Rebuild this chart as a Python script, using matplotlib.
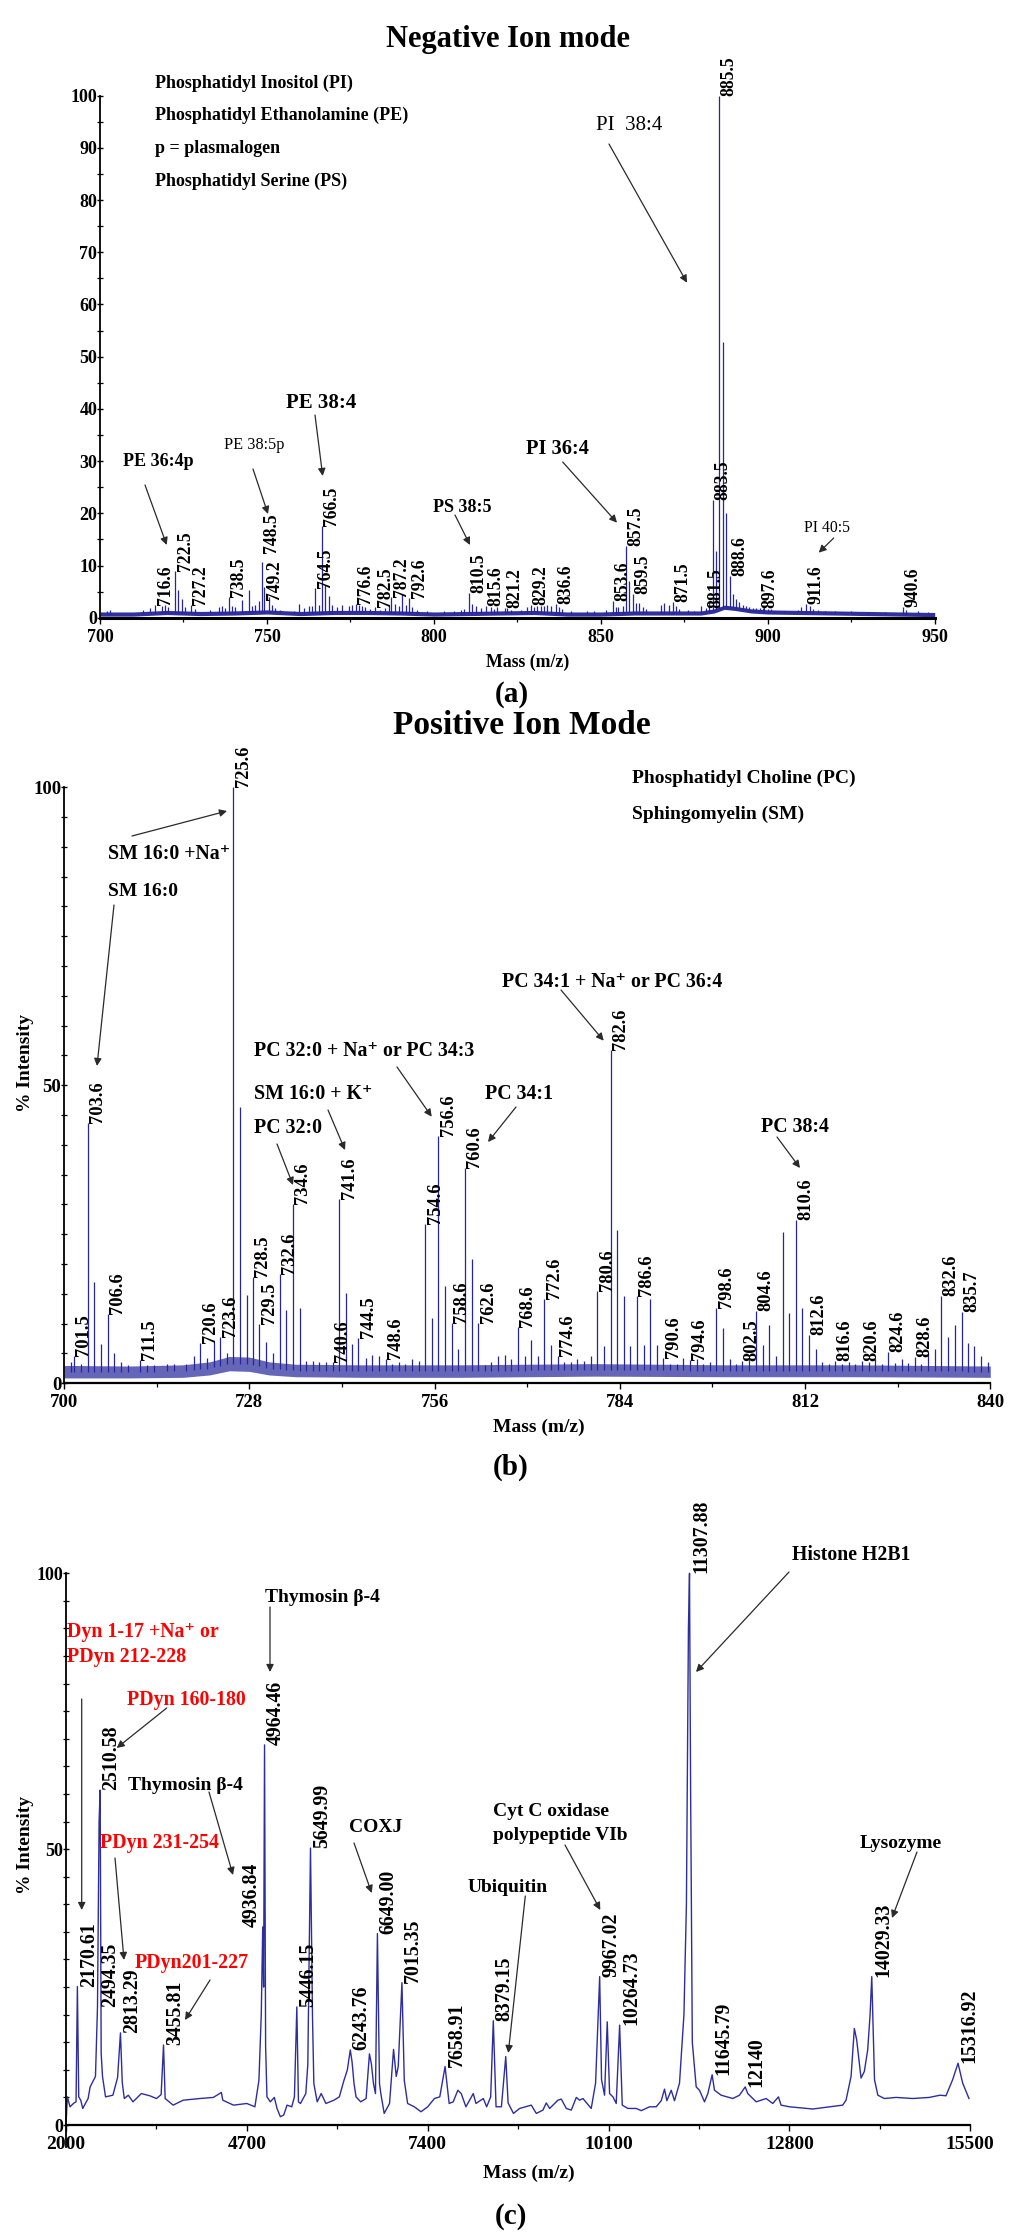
import numpy as np
import matplotlib
matplotlib.use("Agg")
import matplotlib.pyplot as plt
from matplotlib.ticker import FixedLocator

W, H = 1024, 2236
plt.rcParams['font.family'] = ['Liberation Serif', 'DejaVu Serif']
plt.rcParams['font.weight'] = 'bold'
BLUE = '#25259c'

# ---------------- (a) Negative ion mode ----------------
neg_mz = [716.6, 718.5, 719.5, 720.5, 722.5, 723.5, 724.5, 725.5, 727.2, 736.5, 737.5, 738.5,
          739.5, 740.5, 742.5, 744.5, 745.5, 746.5, 747.5, 748.5, 749.2, 750.5, 751.5, 752.5,
          759.5, 761.0, 762.5, 764.5, 765.5, 766.5, 767.5, 768.5, 769.5, 771.0, 772.5, 774.5,
          775.5, 776.6, 777.5, 778.5, 782.5, 785.5, 786.5, 787.2, 788.5, 790.5, 791.5, 792.6,
          793.5, 810.5, 811.5, 812.5, 814.0, 815.6, 817.0, 819.0, 821.2, 829.2, 831.0, 832.0,
          833.0, 834.0, 836.6, 837.5, 853.6, 855.0, 856.5, 857.5, 858.5, 859.5, 860.5, 861.5,
          868.0, 869.0, 871.5, 872.5, 880.0, 881.5, 882.5, 883.5, 884.5, 885.5, 886.5, 887.5,
          888.6, 889.5, 890.5, 891.5, 892.5, 893.5, 895.5, 897.6, 899.0, 910.0, 911.6, 912.6,
          940.6,
          702.0, 703.0, 713.0, 715.0, 728.5, 733.0, 735.5, 754.0, 758.0, 763.5, 779.5, 781.0,
          784.0, 789.5, 795.0, 798.0, 803.0, 806.0, 808.0, 809.0, 818.0, 822.0, 823.0, 826.0,
          828.0, 830.0, 835.0, 838.5, 841.0, 846.0, 848.0, 851.5, 854.5, 862.5, 863.5, 870.5,
          873.5, 876.0, 878.0, 894.5, 896.5, 898.5, 900.0, 901.0, 902.0, 905.0, 909.0, 913.5,
          915.0, 917.0, 920.0, 925.0, 930.0, 935.0, 941.5, 945.0, 948.0]
neg_int = [2.4, 2.2, 2.5, 2.0, 9.0, 5.3, 3.6, 2.0, 2.4, 2.2, 1.8, 4.0,
           2.2, 2.0, 3.3, 5.3, 2.2, 2.5, 3.2, 10.7, 5.9, 4.0, 2.5, 1.8,
           2.6, 1.8, 2.3, 5.6, 2.5, 17.6, 6.3, 4.2, 2.4, 2.0, 2.4, 2.2,
           2.4, 2.7, 2.5, 2.3, 2.1, 1.8, 2.5, 4.0, 2.7, 4.5, 2.5, 3.8,
           2.0, 4.8, 2.7, 2.3, 1.8, 2.3, 2.0, 2.0, 1.8, 2.4, 2.2, 2.3,
           2.3, 2.4, 2.6, 2.0, 3.2, 2.0, 2.2, 13.7, 7.1, 4.5, 2.8, 2.8,
           2.5, 2.8, 3.0, 2.2, 2.2, 1.8, 3.0, 22.5, 12.8, 100.0, 52.9, 20.0,
           7.9, 4.5, 3.5, 3.0, 2.5, 2.2, 1.8, 1.8, 2.0, 2.0, 2.6, 2.3,
           2.0,
           1.3, 1.4, 1.5, 1.8, 1.6, 1.4, 2.0, 1.5, 1.3, 2.2, 2.0, 1.6,
           1.5, 2.3, 1.5, 1.3, 1.3, 1.3, 1.5, 1.7, 1.7, 1.8, 1.5, 1.5,
           2.0, 2.0, 2.3, 1.6, 1.3, 1.3, 1.3, 1.5, 2.0, 2.0, 1.7, 2.5,
           1.7, 1.5, 1.3, 2.0, 1.8, 1.8, 1.6, 1.7, 1.3, 1.2, 1.5, 1.6,
           1.5, 1.3, 1.3, 1.2, 1.1, 1.1, 1.4, 1.2, 1.1]
neg_labels = ['716.6', '722.5', '727.2', '738.5', '748.5', '749.2', '764.5', '766.5', '776.6',
              '782.5', '787.2', '792.6', '810.5', '815.6', '821.2', '829.2', '836.6', '853.6',
              '857.5', '859.5', '871.5', '881.5', '883.5', '885.5', '888.6', '897.6', '911.6',
              '940.6']
neg_base_mz = [700, 710, 720, 730, 740, 750, 760, 770, 780, 790, 800, 810, 820, 830, 840, 850,
               860, 870, 880, 884, 887, 890, 895, 900, 910, 920, 930, 940, 950]
neg_base_mid = [0.7, 0.7, 1.0, 0.8, 0.9, 1.1, 0.8, 1.0, 1.0, 0.9, 0.7, 0.8, 0.9, 1.0, 0.7, 0.7,
                0.9, 0.9, 0.9, 1.3, 2.0, 1.8, 1.3, 1.1, 1.0, 0.9, 0.8, 0.7, 0.6]

# ---------------- (b) Positive ion mode ----------------
pos_mz = [701.0, 701.5, 702.6, 703.6, 704.6, 705.6, 706.6, 707.6, 708.6, 709.6, 711.5, 712.5,
          713.6, 715.6, 716.6, 718.5, 719.6, 720.6, 721.6, 722.6, 723.6, 724.6, 725.6, 726.6,
          727.6, 728.5, 729.5, 730.5, 731.6, 732.6, 733.6, 734.6, 735.6, 736.6, 737.6, 738.6,
          739.6, 740.6, 741.6, 742.6, 743.6, 744.5, 745.6, 746.6, 747.6, 748.6, 749.6, 750.6,
          751.6, 752.6, 753.6, 754.6, 755.6, 756.6, 757.6, 758.6, 759.6, 760.6, 761.6, 762.6,
          763.6, 764.6, 765.6, 766.6, 767.6, 768.6, 769.6, 770.6, 771.6, 772.6, 773.6, 774.6,
          775.6, 776.6, 777.6, 778.6, 779.6, 780.6, 781.6, 782.6, 783.6, 784.6, 785.6, 786.6,
          787.6, 788.6, 789.6, 790.6, 791.6, 792.6, 793.6, 794.6, 795.6, 796.6, 797.6, 798.6,
          799.6, 800.6, 801.6, 802.5, 803.6, 804.6, 805.6, 806.6, 807.6, 808.6, 809.6, 810.6,
          811.6, 812.6, 813.6, 814.6, 815.6, 816.6, 817.6, 818.6, 819.6, 820.6, 821.6, 822.6,
          823.6, 824.6, 825.6, 826.6, 827.6, 828.6, 829.6, 830.6, 831.6, 832.6, 833.6, 834.6,
          835.7, 836.6, 837.6, 838.6, 839.6]
pos_int = [3.5, 4.5, 3.2, 43.7, 17.0, 6.6, 11.6, 5.1, 3.5, 3.0, 3.9, 3.0,
           3.0, 3.2, 3.3, 3.3, 4.5, 6.7, 4.2, 6.9, 7.8, 5.0, 100.0, 46.4,
           14.8, 17.8, 10.0, 7.0, 5.0, 18.4, 12.3, 30.0, 12.6, 3.7, 3.8, 3.5,
           3.5, 3.6, 30.9, 15.2, 6.6, 7.6, 4.3, 4.8, 4.5, 4.0, 3.3, 3.5,
           3.2, 4.0, 3.8, 26.7, 10.9, 41.5, 16.3, 10.2, 5.7, 36.1, 20.8, 10.1,
           3.0, 3.5, 4.5, 4.7, 4.0, 9.4, 4.6, 7.2, 4.5, 14.2, 6.5, 4.6,
           3.5, 3.5, 4.0, 3.7, 4.5, 15.5, 6.3, 55.9, 25.7, 14.7, 6.3, 14.7,
           6.4, 14.2, 6.5, 4.3, 3.3, 3.3, 4.2, 3.9, 4.0, 3.3, 3.5, 12.7,
           9.2, 4.0, 3.3, 3.8, 4.0, 12.1, 6.4, 9.8, 4.5, 25.4, 11.8, 27.4,
           12.6, 8.1, 5.8, 3.5, 3.3, 3.7, 3.3, 3.5, 3.3, 3.8, 3.5, 4.1,
           3.3, 5.2, 3.4, 4.1, 3.4, 4.4, 3.2, 5.0, 5.7, 14.7, 7.7, 9.8,
           11.9, 6.7, 6.2, 4.6, 3.5]
pos_labels = ['701.5', '703.6', '706.6', '711.5', '720.6', '723.6', '725.6', '728.5', '729.5',
              '732.6', '734.6', '740.6', '741.6', '744.5', '748.6', '754.6', '756.6', '758.6',
              '760.6', '762.6', '768.6', '772.6', '774.6', '780.6', '782.6', '786.6', '790.6',
              '794.6', '798.6', '802.5', '804.6', '810.6', '812.6', '816.6', '820.6', '824.6',
              '828.6', '832.6', '835.7']
pos_base_mz = [700, 710, 718, 722, 725, 728, 731, 735, 745, 760, 780, 800, 820, 840]
pos_base_lo = [0.9, 0.9, 1.0, 1.4, 2.1, 2.0, 1.4, 1.1, 1.0, 1.0, 1.2, 1.1, 1.1, 1.0]
pos_base_hi = [3.0, 2.9, 3.1, 3.6, 4.5, 4.4, 3.6, 3.2, 3.1, 3.1, 3.3, 3.1, 3.1, 2.9]

# ---------------- (c) Protein / peptide spectrum ----------------
prot_mz = [2000, 2020, 2060, 2120, 2150, 2170, 2190, 2220, 2250, 2330, 2360, 2440, 2470, 2494,
           2510, 2525, 2545, 2590, 2700, 2770, 2813, 2840, 2870, 2930, 3000, 3125, 3250, 3350,
           3420, 3456, 3480, 3600, 3750, 4000, 4200, 4320, 4340, 4500, 4700, 4820, 4880, 4915,
           4937, 4950, 4964, 4980, 5000, 5050, 5110, 5150, 5200, 5250, 5300, 5370, 5410, 5446,
           5470, 5500, 5580, 5610, 5650, 5680, 5700, 5750, 5810, 5880, 6000, 6080, 6150, 6200,
           6244, 6270, 6300, 6330, 6400, 6480, 6530, 6560, 6590, 6620, 6649, 6680, 6700, 6750,
           6830, 6890, 6930, 6960, 7015, 7050, 7100, 7200, 7300, 7400, 7500, 7580, 7659, 7720,
           7780, 7850, 7900, 7970, 8080, 8120, 8230, 8280, 8340, 8379, 8420, 8500, 8565, 8600,
           8680, 8772, 8946, 9021, 9120, 9170, 9220, 9344, 9394, 9469, 9543, 9618, 9667, 9717,
           9841, 9906, 9967, 9995, 10040, 10080, 10115, 10165, 10214, 10265, 10304, 10388, 10513,
           10587, 10712, 10811, 10886, 10935, 10970, 11035, 11084, 11159, 11225, 11262, 11292,
           11308, 11325, 11350, 11408, 11457, 11532, 11582, 11646, 11681, 11781, 11955, 12054,
           12140, 12178, 12303, 12452, 12551, 12636, 12675, 12800, 13148, 13595, 13645, 13720,
           13769, 13804, 13869, 13918, 13968, 14003, 14029, 14070, 14120, 14217, 14391, 14640,
           14888, 15047, 15137, 15236, 15317, 15386, 15480]
prot_int = [0.0, 5.1, 3.3, 4.0, 4.2, 25.1, 5.1, 4.5, 3.0, 4.8, 6.9, 8.8, 21.4, 55.0,
            60.7, 13.0, 8.8, 5.1, 5.4, 8.6, 16.7, 7.7, 4.8, 5.4, 4.2, 5.7, 5.3, 4.8,
            5.5, 14.5, 4.8, 3.6, 4.5, 4.8, 5.0, 5.9, 4.5, 3.6, 3.9, 3.3, 8.1, 20.0,
            35.9, 25.0, 68.9, 14.2, 5.1, 4.2, 5.0, 3.0, 1.5, 1.8, 3.6, 3.3, 5.1, 21.4,
            4.2, 3.9, 5.7, 11.0, 50.2, 19.5, 7.5, 4.2, 5.7, 3.9, 4.5, 5.1, 8.1, 10.0,
            13.6, 11.5, 7.5, 5.1, 4.2, 4.8, 12.9, 11.0, 7.5, 5.7, 34.7, 7.5, 5.7, 2.1,
            3.9, 13.7, 8.8, 10.6, 25.8, 8.1, 3.9, 3.3, 2.4, 3.3, 4.8, 5.1, 10.6, 3.9,
            4.2, 6.3, 5.7, 3.3, 5.7, 3.9, 4.8, 3.3, 5.1, 18.9, 3.3, 3.3, 12.4, 4.0,
            2.1, 3.0, 3.6, 2.1, 2.7, 4.0, 3.0, 4.5, 4.7, 3.0, 2.7, 5.0, 4.5, 4.8,
            3.0, 7.6, 26.9, 8.2, 5.4, 18.7, 5.7, 5.1, 3.9, 18.1, 3.6, 3.0, 3.0,
            2.6, 3.3, 3.3, 4.4, 6.5, 4.4, 6.3, 4.4, 7.6, 20.0, 40.0, 90.0,
            100.0, 60.0, 15.0, 6.9, 6.3, 4.2, 5.7, 9.1, 6.3, 5.4, 4.8, 5.4,
            6.9, 5.7, 4.2, 4.8, 3.9, 5.1, 3.6, 3.3, 2.9, 3.6, 4.5, 8.8,
            17.5, 15.4, 8.5, 9.7, 13.6, 19.8, 26.9, 8.2, 5.4, 4.8, 5.0, 4.8,
            5.0, 5.4, 5.3, 8.2, 11.2, 7.6, 4.8]
prot_labels = ['2170.61', '2494.35', '2510.58', '2813.29', '3455.81', '4936.84', '4964.46',
               '5446.15', '5649.99', '6243.76', '6649.00', '7015.35', '7658.91', '8379.15',
               '9967.02', '10264.73', '11307.88', '11645.79', '12140', '14029.33', '15316.92']

# ---------------- figure ----------------
fig = plt.figure(figsize=(W / 100, H / 100), dpi=100)
fig.patch.set_facecolor('white')


def add_axes_px(left, right, top, bottom):
    return fig.add_axes([left / W, 1 - bottom / H, (right - left) / W, (bottom - top) / H])


def style(ax, xlim, xmaj, xmin, ymaj, ymin, xfs, yfs, blw):
    ax.set_xlim(*xlim)
    ax.set_ylim(0, 100)
    ax.set_facecolor('none')
    for s in ('top', 'right'):
        ax.spines[s].set_visible(False)
    ax.spines['left'].set_linewidth(1.3)
    ax.spines['bottom'].set_linewidth(blw)
    ax.xaxis.set_major_locator(FixedLocator(xmaj))
    ax.xaxis.set_minor_locator(FixedLocator(xmin))
    ax.yaxis.set_major_locator(FixedLocator(ymaj))
    ax.yaxis.set_minor_locator(FixedLocator(ymin))
    ax.tick_params(axis='x', which='major', direction='out', length=4, width=1.0,
                   labelsize=xfs, pad=4)
    ax.tick_params(axis='x', which='minor', direction='out', length=3, width=0.9)
    ax.tick_params(axis='y', which='major', direction='inout', length=4, width=1.0,
                   labelsize=yfs, pad=0)
    ax.tick_params(axis='y', which='minor', direction='inout', length=4, width=0.9)


def txt(x, y, s, fs, ha='left', va='center', color='black', weight='bold', rot=0):
    fig.text(x / W, 1 - y / H, s, fontsize=fs, ha=ha, va=va, color=color,
             fontweight=weight, rotation=rot)


def arrow(ax, x0, y0, x1, y1):
    ax.annotate('', xy=(x1, H - y1), xycoords='figure pixels',
                xytext=(x0, H - y0), textcoords='figure pixels',
                annotation_clip=False,
                arrowprops=dict(arrowstyle='-|>', color='#2a2a2a', lw=0.9,
                                mutation_scale=11, shrinkA=0, shrinkB=0))


def sticks(ax, mz, inten, bmz, blo, bhi, band_alpha):
    mz = np.asarray(mz, float)
    inten = np.asarray(inten, float)
    blo = np.asarray(blo, float)
    bhi = np.asarray(bhi, float)
    mid = (blo + bhi) / 2
    ax.fill_between(bmz, blo, bhi, color=BLUE, lw=0, alpha=band_alpha)
    base = np.interp(mz, bmz, mid)
    ax.vlines(mz, base, inten, colors=BLUE, lw=0.9, clip_on=False)


def peak_labels(ax, labels, mz, inten, fs, anchor_over=None, left_side=(), window=None):
    mz = np.asarray(mz, float)
    inten = np.asarray(inten, float)
    anchor_over = anchor_over or {}
    for lab in labels:
        m = float(lab)
        if window is None:
            h = inten[np.argmin(np.abs(mz - m))]
        else:
            sel = np.abs(mz - m) <= window
            h = inten[sel].max()
        h = anchor_over.get(lab, h)
        if lab in left_side:
            ax.annotate(lab, xy=(m, h), xytext=(-1, 0), textcoords='offset points',
                        rotation=90, ha='right', va='bottom', fontsize=fs,
                        fontweight='bold', annotation_clip=False)
        else:
            ax.annotate(lab, xy=(m, h), xytext=(1, 0), textcoords='offset points',
                        rotation=90, ha='left', va='bottom', fontsize=fs,
                        fontweight='bold', annotation_clip=False)


# ---------- panel (a) ----------
axA = add_axes_px(100, 934.7, 95.7, 617.7)
style(axA, (700, 950), [700, 750, 800, 850, 900, 950], [725, 775, 825, 875, 925],
      list(range(0, 101, 10)), list(range(5, 100, 10)), 13, 13, 2.2)
nb = np.asarray(neg_base_mid)
sticks(axA, neg_mz, neg_int, neg_base_mz, nb - 0.4, nb + 0.4, 0.95)
peak_labels(axA, neg_labels, neg_mz, neg_int, 12.7, anchor_over={'748.5': 12.3, '749.2': 3.3})

txt(508, 40, 'Negative Ion mode', 22, ha='center')
for i, s in enumerate(['Phosphatidyl Inositol (PI)', 'Phosphatidyl Ethanolamine (PE)',
                       'p = plasmalogen', 'Phosphatidyl Serine (PS)']):
    txt(155, 83 + i * 32.7, s, 13)
txt(158.7, 461.7, 'PE 36:4p', 13, ha='center')
arrow(axA, 145, 485, 166.7, 545)
txt(254, 445, 'PE 38:5p', 11.7, ha='center', weight='normal')
arrow(axA, 253, 469, 268, 514)
txt(321, 403, 'PE 38:4', 15, ha='center')
arrow(axA, 315, 415, 322.7, 476)
txt(462.5, 508, 'PS 38:5', 13, ha='center')
arrow(axA, 455, 515, 470, 545)
txt(557.7, 449, 'PI 36:4', 14.7, ha='center')
arrow(axA, 562.7, 462, 617, 522.7)
txt(827.5, 528, 'PI 40:5', 11.3, ha='center', weight='normal')
arrow(axA, 833.7, 538, 818.7, 552.7)
txt(629.5, 125, 'PI  38:4', 15, ha='center', weight='normal')
arrow(axA, 609, 144, 687, 282.7)
txt(528, 662, 'Mass (m/z)', 12.8, ha='center')
txt(512, 695, '(a)', 21, ha='center')

# ---------- panel (b) ----------
axB = add_axes_px(64, 990.3, 787.3, 1383.3)
style(axB, (700, 840), [700, 728, 756, 784, 812, 840], [714, 742, 770, 798, 826],
      [0, 50, 100], [v for v in range(5, 100, 5) if v != 50], 13.5, 13.5, 1.6)
sticks(axB, pos_mz, pos_int, pos_base_mz, pos_base_lo, pos_base_hi, 0.7)
peak_labels(axB, pos_labels, pos_mz, pos_int, 13.3)

txt(522, 726, 'Positive Ion Mode', 24, ha='center')
txt(632, 778, 'Phosphatidyl Choline (PC)', 14)
txt(632, 814, 'Sphingomyelin (SM)', 14)
txt(108, 854, 'SM 16:0 +Na\u207a', 14.3)
arrow(axB, 132, 836, 227, 811)
txt(108, 891, 'SM 16:0', 14)
arrow(axB, 114, 905, 97, 1066)
txt(254, 1051, 'PC 32:0 + Na\u207a or PC 34:3', 14.3)
arrow(axB, 397, 1067, 431.7, 1116.7)
txt(254, 1094, 'SM 16:0 + K\u207a', 14.3)
arrow(axB, 328, 1110, 345, 1150)
txt(254, 1128, 'PC 32:0', 14.3)
arrow(axB, 277, 1144, 293, 1185)
txt(485, 1094, 'PC 34:1', 14.3)
arrow(axB, 516, 1107, 488, 1142)
txt(502, 982, 'PC 34:1 + Na\u207a or PC 36:4', 14.3)
arrow(axB, 561, 990, 603.7, 1040.7)
txt(761, 1127, 'PC 38:4', 14.3)
arrow(axB, 777, 1137, 800, 1168)
txt(25, 1063, '% Intensity', 14, ha='center', rot=90)
txt(539, 1427, 'Mass (m/z)', 14, ha='center')
txt(511, 1467, '(b)', 21, ha='center')

# ---------- panel (c) ----------
axC = add_axes_px(66, 970.3, 1573.3, 2125)
style(axC, (2000, 15500), [2000, 4700, 7400, 10100, 12800, 15500],
      [3350, 6050, 8750, 11450, 14150],
      [0, 50, 100], [v for v in range(5, 100, 5) if v != 50], 14, 13, 1.6)
axC.plot(prot_mz, prot_int, color='#2d2da0', lw=1.0, clip_on=False)
axC.plot([0, 0], [-0.04, 0], transform=axC.transAxes, color='black', lw=1.3, clip_on=False)
peak_labels(axC, prot_labels, prot_mz, prot_int, 14.3,
            anchor_over={'2494.35': 21.4}, left_side=('4936.84',), window=16)

RED = '#ff0000'
txt(265, 1598, 'Thymosin \u03b2-4', 14)
arrow(axC, 270, 1607, 270, 1672)
txt(66.7, 1632, 'Dyn 1-17 +Na\u207a or', 14.3, color=RED)
txt(66.7, 1657, 'PDyn 212-228', 14.3, color=RED)
arrow(axC, 81.7, 1699, 81.7, 1910)
txt(126.7, 1700, 'PDyn 160-180', 14.3, color=RED)
arrow(axC, 166.7, 1708, 116.7, 1748)
txt(127.7, 1785, 'Thymosin \u03b2-4', 14)
arrow(axC, 209, 1792, 233, 1875)
txt(100, 1843, 'PDyn 231-254', 14.3, color=RED)
arrow(axC, 115, 1858, 124, 1960)
txt(135, 1963, 'PDyn201-227', 14.3, color=RED)
arrow(axC, 210, 1980, 185, 2020)
txt(349, 1827, 'COXJ', 14)
arrow(axC, 354, 1843, 371.7, 1893)
txt(493, 1811, 'Cyt C oxidase', 14)
txt(493, 1836, 'polypeptide VIb', 14)
arrow(axC, 565, 1845, 600.3, 1910)
txt(468, 1887, 'Ubiquitin', 14)
arrow(axC, 525.3, 1896, 508.3, 2053)
txt(792, 1555, 'Histone H2B1', 14.2)
arrow(axC, 789, 1572, 696, 1672)
txt(860, 1843, 'Lysozyme', 14)
arrow(axC, 917, 1852, 892, 1918)
txt(25, 1845, '% Intensity', 14, ha='center', rot=90)
txt(529, 2173, 'Mass (m/z)', 14, ha='center')
txt(511, 2217, '(c)', 21, ha='center')

fig.savefig('out.png', dpi=100, facecolor='white')
